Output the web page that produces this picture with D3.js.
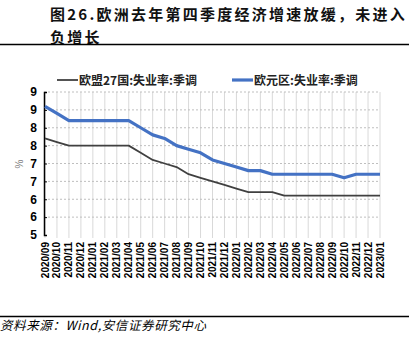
<!DOCTYPE html>
<html><head><meta charset="utf-8">
<script src="https://cdn.jsdelivr.net/npm/d3@7"></script>
<style>
html,body{margin:0;padding:0;background:#fff;}
svg{display:block;}
</style>
</head><body>
<svg id="c" width="409" height="349"></svg>
<script>
const months = ["2020/09","2020/10","2020/11","2020/12","2021/01","2021/02","2021/03","2021/04","2021/05","2021/06","2021/07","2021/08","2021/09","2021/10","2021/11","2021/12","2022/01","2022/02","2022/03","2022/04","2022/05","2022/06","2022/07","2022/08","2022/09","2022/10","2022/11","2022/12","2023/01"];
const eu27 = [7.7,7.6,7.5,7.5,7.5,7.5,7.5,7.5,7.3,7.1,7.0,6.9,6.7,6.6,6.5,6.4,6.3,6.2,6.2,6.2,6.1,6.1,6.1,6.1,6.1,6.1,6.1,6.1,6.1];
const euroArea = [8.6,8.4,8.2,8.2,8.2,8.2,8.2,8.2,8.0,7.8,7.7,7.5,7.4,7.3,7.1,7.0,6.9,6.8,6.8,6.7,6.7,6.7,6.7,6.7,6.7,6.6,6.7,6.7,6.7];
const yTickValues = [5,5.5,6,6.5,7,7.5,8,8.5,9];
const yTickLabels = ["5","6","6","7","7","8","8","9","9"];
const seriesNames = ["欧盟27国:失业率:季调","欧元区:失业率:季调"];
const titleLines = ["图26.欧洲去年第四季度经济增速放缓，未进入","负增长"];
const sourceText = "资料来源：Wind,安信证券研究中心";

const svg = d3.select("#c");
const x = d3.scalePoint().domain(months).range([45, 380]);
const y = d3.scaleLinear().domain([5, 9]).range([235, 92]);

// title
svg.selectAll("text.title").data(titleLines).enter().append("text")
  .attr("class","title")
  .attr("x", 50).attr("y", (d,i)=> 20 + i*23)
  .attr("font-family","'Noto Sans CJK SC', sans-serif")
  .attr("font-weight","700").attr("font-size", 15)
  .attr("letter-spacing", 2.25)
  .attr("fill","#111").text(d=>d);

svg.append("line").attr("x1",0).attr("x2",409).attr("y1",44.5).attr("y2",44.5)
  .attr("stroke","#000").attr("stroke-width",1.5);
svg.append("line").attr("x1",0).attr("x2",409).attr("y1",316.5).attr("y2",316.5)
  .attr("stroke","#000").attr("stroke-width",1.5);

// vertical grid
svg.append("g").selectAll("line").data(months).enter().append("line")
  .attr("x1", d=>x(d)).attr("x2", d=>x(d)).attr("y1", 92).attr("y2", 238)
  .attr("stroke","#d9d9d9").attr("stroke-width",1);

// horizontal grid
svg.append("g").selectAll("line").data(yTickValues.filter(v=>v>5)).enter().append("line")
  .attr("x1", 44).attr("x2", 380).attr("y1", d=>y(d)).attr("y2", d=>y(d))
  .attr("stroke","#bfbfbf").attr("stroke-width",1).attr("stroke-dasharray","2,2");

// y axis
const yAxis = d3.axisLeft(y).tickValues(yTickValues)
  .tickFormat((d,i)=> yTickLabels[i]).tickSize(-3).tickPadding(7);
const ga = svg.append("g").attr("transform","translate(44,0)").call(yAxis);
ga.select(".domain").attr("stroke","#000").attr("stroke-width",1.5);
ga.selectAll(".tick line").attr("stroke","#000");
ga.selectAll(".tick text").attr("font-family","'Liberation Sans', Arial, sans-serif")
  .attr("font-weight","700").attr("font-size",12).attr("fill","#000");

// % label
svg.append("text").attr("transform","translate(23,164) rotate(-90)")
  .attr("text-anchor","middle").attr("font-family","'Liberation Sans', Arial, sans-serif")
  .attr("font-size",10).attr("fill","#808080").text("%");

// x labels
svg.append("g").selectAll("text").data(months).enter().append("text")
  .attr("transform", d=>`translate(${x(d)},242) rotate(-90)`)
  .attr("text-anchor","end").attr("dy","0.35em")
  .attr("font-family","'Liberation Sans', Arial, sans-serif")
  .attr("font-weight","700").attr("font-size",10).attr("fill","#000")
  .text(d=>d);

// lines
const line = d3.line().x((d,i)=>x(months[i])).y(d=>y(d));
svg.append("path").datum(eu27).attr("d", line).attr("fill","none")
  .attr("stroke","#404040").attr("stroke-width",1.8).attr("stroke-linejoin","round");
svg.append("path").datum(euroArea).attr("d", line).attr("fill","none")
  .attr("stroke","#4472C4").attr("stroke-width",3.2).attr("stroke-linejoin","round");

// legend
const legend = [
  {name: seriesNames[0], color:"#404040", w:1.8, x:57},
  {name: seriesNames[1], color:"#4472C4", w:3.2, x:232}
];
const lg = svg.append("g").selectAll("g").data(legend).enter().append("g");
lg.append("line").attr("x1", d=>d.x).attr("x2", d=>d.x+21).attr("y1",80).attr("y2",80)
  .attr("stroke", d=>d.color).attr("stroke-width", d=>d.w);
lg.append("text").attr("x", d=>d.x+22).attr("y",84.5)
  .attr("font-family","'Noto Sans CJK SC', sans-serif").attr("font-weight","700")
  .attr("font-size",12).attr("fill","#222").text(d=>d.name);

// source
svg.append("text").attr("x",0).attr("y",330)
  .attr("font-family","'Noto Sans CJK SC', sans-serif").attr("font-style","italic")
  .attr("font-size",12.5).attr("letter-spacing",0.6).attr("fill","#000").text(sourceText);
</script>
</body></html>
